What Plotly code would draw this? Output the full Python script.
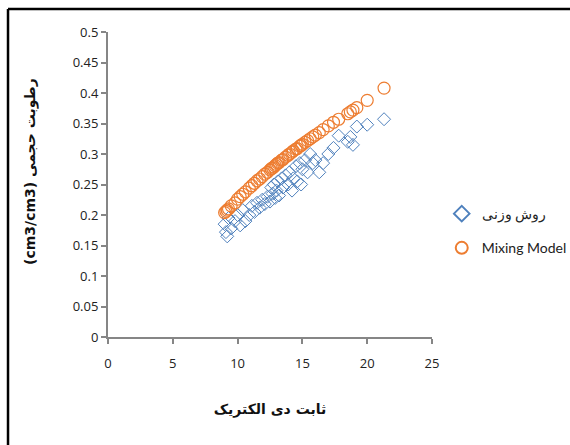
import plotly.graph_objects as go

dielectric = [9.0, 9.1, 9.2, 9.3, 9.5, 9.8, 10.0, 10.2, 10.4, 10.6, 10.9, 11.1, 11.3, 11.5,
              11.7, 11.9, 12.1, 12.3, 12.5, 12.6, 12.7, 12.8, 12.9, 13.0, 13.1, 13.2, 13.4,
              13.5, 13.7, 13.9, 14.0, 14.2, 14.3, 14.5, 14.6, 14.8, 14.9, 15.0, 15.2, 15.4,
              15.6, 15.8, 16.0, 16.3, 16.6, 17.0, 17.4, 17.8, 18.5, 18.7, 18.9, 19.2, 20.0, 21.3]

gravimetric = [0.185, 0.172, 0.165, 0.195, 0.178, 0.190, 0.200, 0.183, 0.208, 0.190, 0.200,
               0.215, 0.205, 0.220, 0.212, 0.225, 0.218, 0.230, 0.222, 0.245, 0.235, 0.250,
               0.228, 0.240, 0.255, 0.232, 0.260, 0.245, 0.265, 0.250, 0.270, 0.240, 0.260,
               0.280, 0.255, 0.285, 0.250, 0.275, 0.290, 0.270, 0.300, 0.285, 0.290, 0.270,
               0.285, 0.300, 0.310, 0.330, 0.320, 0.328, 0.315, 0.345, 0.348, 0.357]

mixing = [0.204, 0.206, 0.208, 0.210, 0.215, 0.220, 0.226, 0.230, 0.234, 0.238, 0.244,
          0.248, 0.252, 0.256, 0.259, 0.263, 0.267, 0.270, 0.274, 0.276, 0.277, 0.279,
          0.281, 0.283, 0.285, 0.286, 0.290, 0.291, 0.295, 0.298, 0.300, 0.303, 0.305,
          0.308, 0.309, 0.313, 0.314, 0.316, 0.319, 0.322, 0.325, 0.328, 0.331, 0.335,
          0.340, 0.346, 0.352, 0.357, 0.366, 0.369, 0.372, 0.376, 0.388, 0.408]

x_ticks = [0, 5, 10, 15, 20, 25]
y_ticks = [0, 0.05, 0.1, 0.15, 0.2, 0.25, 0.3, 0.35, 0.4, 0.45, 0.5]

fig = go.Figure()
fig.add_trace(go.Scatter(
    x=dielectric, y=gravimetric, mode="markers", name="روش وزنی", legendgroup="a",
    marker=dict(symbol="diamond-open", size=10, color="#4F81BD", line=dict(width=1, color="#4F81BD")),
))
fig.add_trace(go.Scatter(
    x=dielectric, y=mixing, mode="markers", name="Mixing Model", legendgroup="b",
    marker=dict(symbol="circle-open", size=12, color="#ED7D31", line=dict(width=1.2, color="#ED7D31")),
))

axis_common = dict(
    showgrid=False, zeroline=False, showline=True, linecolor="#868686", linewidth=2,
    ticks="outside", ticklen=5, tickcolor="#868686", tickwidth=1.5,
    tickfont=dict(family="Open Sans", size=13, color="#222"),
)

fig.update_layout(
    width=570, height=445,
    margin=dict(l=108, r=138, t=32, b=108, autoexpand=False),
    paper_bgcolor="white", plot_bgcolor="white",
    showlegend=True,
    legend=dict(xref="container", yref="container", x=0.775, y=0.555, xanchor="left", yanchor="top",
                font=dict(family="Lato", size=14, color="#222"),
                tracegroupgap=13, itemsizing="constant", bgcolor="rgba(0,0,0,0)",
                itemwidth=30),
    xaxis=dict(range=[0, 25], tickvals=x_ticks, ticktext=[str(v) for v in x_ticks],
               ticklabelstandoff=8,
               title=dict(text="<b>ثابت دی الکتریک</b>", font=dict(family="DejaVu Sans", size=14, color="#111"), standoff=34),
               **axis_common),
    yaxis=dict(range=[0, 0.5], tickvals=y_ticks, ticktext=[f"{v:g}" for v in y_ticks],
               **axis_common),
    annotations=[
        dict(text="<b>(cm3/cm3) رطوبت حجمی</b>", textangle=-90, xref="paper", yref="paper",
             x=(30 - 108) / 324, y=(337 - 172) / 305, xanchor="center", yanchor="middle",
             showarrow=False, font=dict(family="DejaVu Sans", size=14, color="#111")),
    ],
    shapes=[
        dict(type="line", xref="paper", yref="paper", x0=-0.3086, x1=1.6, y0=1.0754, y1=1.0754,
             line=dict(color="black", width=2.5)),
        dict(type="line", xref="paper", yref="paper", x0=-0.3086, x1=-0.3086, y0=1.0754, y1=-0.5,
             line=dict(color="black", width=2.5)),
    ],
)

fig.write_html("out.html")
